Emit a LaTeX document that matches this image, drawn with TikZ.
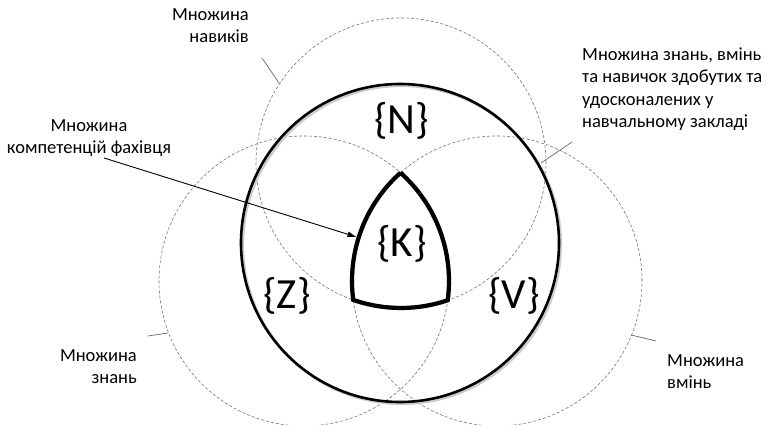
\documentclass[tikz,border=0pt]{standalone}
\usepackage{fontspec}
\setmainfont{Carlito}
\usetikzlibrary{arrows.meta}
\begin{document}
\begin{tikzpicture}[x=1pt,y=1pt,
  setcirc/.style={draw=black!55, line width=0.6pt, dash pattern=on 3pt off 2pt},
  mainline/.style={draw=black, line width=2.6pt},
  kline/.style={draw=black, line width=4.2pt, line join=miter},
  shadowline/.style={draw=black!20, line width=2.6pt},
  leader/.style={draw=black!60, line width=0.7pt},
  biglbl/.style={font=\fontsize{43}{50}\selectfont, inner sep=0pt},
  smalllbl/.style={font=\fontsize{18.5}{22.5}\selectfont, inner sep=0pt},
]
\useasboundingbox (0,0) rectangle (766,425);
% centres
\coordinate (cN) at (401,262);
\coordinate (cZ) at (304,144);
\coordinate (cV) at (497,144);
\coordinate (cB) at (400,182);
% dashed set circles
\draw[setcirc] (cN) circle[radius=145];
\draw[setcirc] (cZ) circle[radius=145];
\draw[setcirc] (cV) circle[radius=145];
% big solid circle with shadow
\draw[shadowline] ([shift={(1.8,-1.8)}]cB) circle[radius=159];
\draw[mainline] (cB) circle[radius=159];
% K region (intersection of the three circles)
\coordinate (kT) at (400.5,252.23);
\draw[draw=black!20, line width=4.2pt, shift={(1.5,-1.5)}] (kT)
  arc[start angle=131.72, end angle=187.49, radius=145]
  arc[start angle=250.77, end angle=288.79, radius=145]
  arc[start angle=-7.64, end angle=48.28, radius=145] -- cycle;
\draw[kline] (kT)
  arc[start angle=131.72, end angle=187.49, radius=145]
  arc[start angle=250.77, end angle=288.79, radius=145]
  arc[start angle=-7.64, end angle=48.28, radius=145] -- cycle;
% big labels
\node[biglbl] (lN) at (401.5,304) {\{N\}};
\node[biglbl] (lK) at (402,181) {\{K\}};
\node[biglbl] (lZ) at (287,129) {\{Z\}};
\node[biglbl] (lV) at (514,129) {\{V\}};
% small labels (base anchor = baseline of last line)
\node[smalllbl, align=right, anchor=base east] (tNav) at (249,382) {Множина\\навиків};
\node[smalllbl, align=center, anchor=base] (tKomp) at (89,271) {Множина\\компетенцій фахівця};
\node[smalllbl, align=left, anchor=base west] (tZvn) at (582,297) {Множина знань, вмінь\\та навичок здобутих та\\удосконалених у\\навчальному закладі};
\node[smalllbl, align=right, anchor=base east] (tZnan) at (137,41) {Множина\\знань};
\node[smalllbl, align=left, anchor=base west] (tVmin) at (667,36) {Множина\\вмінь};
% leader lines
\coordinate (pNav1) at (262,367); \coordinate (pNav2) at (279,342);
\coordinate (pZvn1) at (572,283); \coordinate (pZvn2) at (541,262);
\coordinate (pZnan1) at (148,89); \coordinate (pZnan2) at (168,92);
\coordinate (pVmin1) at (631,90); \coordinate (pVmin2) at (656,84);
\draw[leader] (pNav1) -- (pNav2);
\draw[leader] (pZvn1) -- (pZvn2);
\draw[leader] (pZnan1) -- (pZnan2);
\draw[leader] (pVmin1) -- (pVmin2);
% arrow to K
\coordinate (aStart) at (104,267);
\coordinate (aEnd) at (356.5,188);
\draw[line width=0.9pt, -{Latex[length=9pt,width=6pt]}] (aStart) -- (aEnd);
\end{tikzpicture}
\end{document}
